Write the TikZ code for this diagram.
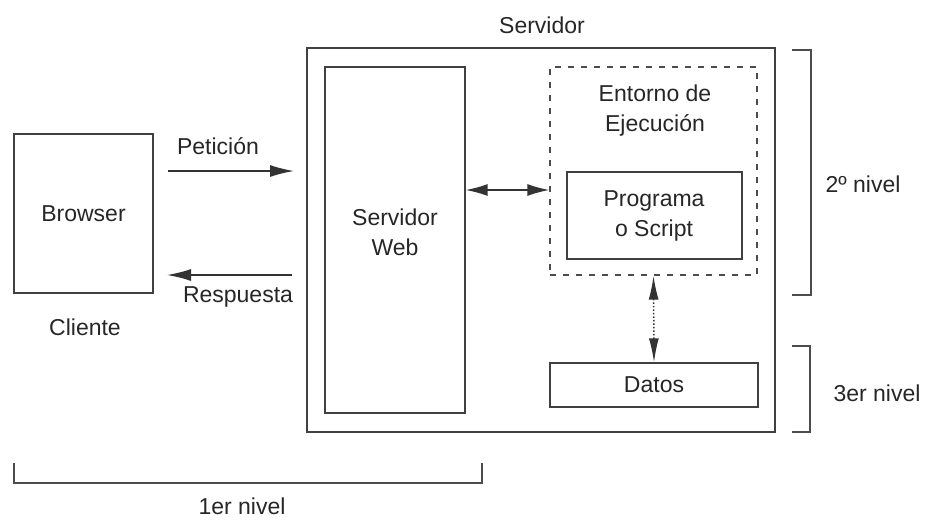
\documentclass[tikz,border=0pt]{standalone}
\usepackage{fontspec}
\setmainfont{Liberation Sans}
\usetikzlibrary{arrows.meta}
\begin{document}
\begin{tikzpicture}[x=1pt,y=-1pt,
  every node/.style={font=\fontsize{23}{30}\selectfont, text=black!85},
  box/.style={draw=black!75, line width=1.4pt, inner sep=0pt},
  lbl/.style={inner sep=0pt, align=center},
  brk/.style={draw=black!70, line width=1.4pt},
  arr/.style={draw=black!80, line width=1.5pt, -{Latex[length=24pt,width=12pt]}},
  darr/.style={draw=black!80, line width=1.5pt, {Latex[length=22pt,width=12pt]}-{Latex[length=22pt,width=12pt]}},
  varr/.style={draw=black!80, line width=1.5pt, dotted, {Latex[length=24pt,width=10pt]}-{Latex[length=24pt,width=10pt]}}
]
\useasboundingbox (0,0) rectangle (931,520);
% boxes
\node[box, minimum width=139pt, minimum height=159pt] (browser) at (83.5,213.5) {Browser};
\node[box, minimum width=468pt, minimum height=384pt] (server) at (541,240) {};
\node[box, minimum width=140pt, minimum height=346pt] (sweb) at (395,240) {};
\node[box, draw=black!70, dashed, dash pattern=on 6pt off 7pt, minimum width=207pt, minimum height=208pt] (env) at (653.5,171) {};
\node[box, minimum width=175pt, minimum height=87pt] (prog) at (654.5,215.5) {};
\node[box, minimum width=208pt, minimum height=44pt] (datos) at (654,385) {Datos};
% texts
\node[lbl] (tserv) at (542,25) {Servidor};
\node[lbl] (tweb) at (395,232) {Servidor\\Web};
\node[lbl] (tenv) at (655,111) {Entorno de\\Ejecución};
\node[lbl] (tprog) at (654,216) {Programa\\o Script};
\node[lbl] (tpet) at (218,146) {Petición};
\node[lbl] (tres) at (238,297) {Respuesta};
\node[lbl] (tcli) at (85,327) {Cliente};
\node[lbl] (t2) at (863,184) {2º nivel};
\node[lbl] (t3) at (877,393) {3er nivel};
\node[lbl] (t1) at (242,506) {1er nivel};
% arrows
\coordinate (p1) at (168,171);
\coordinate (p2) at (294,171);
\coordinate (r1) at (292,275);
\coordinate (r2) at (167,275);
\coordinate (hy) at (500,190);
\draw[arr] (p1) -- (p2);
\draw[arr] (r1) -- (r2);
\draw[darr] (sweb.east |- hy) -- (env.west |- hy);
\draw[varr] (env.south) -- (datos.north);
% brackets
\coordinate (b2a) at (792,50);
\coordinate (b2b) at (811,50);
\coordinate (b2c) at (811,295);
\coordinate (b2d) at (792,295);
\draw[brk] (b2a) -- (b2b) -- (b2c) -- (b2d);
\coordinate (b3a) at (792,346);
\coordinate (b3b) at (810,346);
\coordinate (b3c) at (810,432);
\coordinate (b3d) at (792,432);
\draw[brk] (b3a) -- (b3b) -- (b3c) -- (b3d);
\coordinate (b1a) at (14,463);
\coordinate (b1b) at (14,483);
\coordinate (b1c) at (482,483);
\coordinate (b1d) at (482,463);
\draw[brk] (b1a) -- (b1b) -- (b1c) -- (b1d);
\end{tikzpicture}
\end{document}
